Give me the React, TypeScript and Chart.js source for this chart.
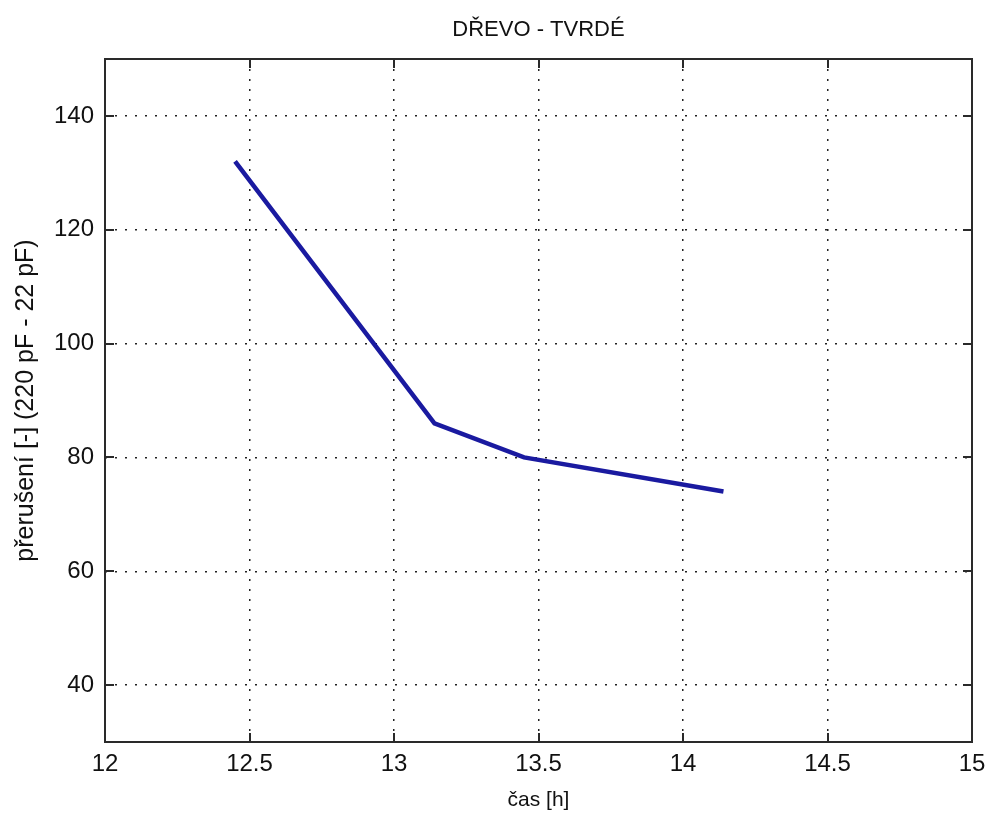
import React, { useEffect, useRef } from "react";
import { Chart, registerables } from "chart.js";

Chart.register(...registerables);

const timeHours = [12.45, 13.14, 13.45, 14.14];
const interruptions = [132, 86, 80, 74];
const xTicks = [12, 12.5, 13, 13.5, 14, 14.5, 15];
const yTicks = [40, 60, 80, 100, 120, 140];
const titleText = "DŘEVO - TVRDÉ";
const xTitle = "čas [h]";
const yTitle = "přerušení [-] (220 pF - 22 pF)";

const FONT = "'Liberation Sans', Arial, sans-serif";

const boxPlugin = {
  id: "matlabBox",
  afterDraw(chart: any) {
    const { ctx, chartArea, scales } = chart;
    const { left, right, top, bottom } = chartArea;
    ctx.save();
    ctx.strokeStyle = "#2a2a2a";
    ctx.lineWidth = 2;
    ctx.setLineDash([]);
    ctx.beginPath();
    const L = 9;
    xTicks.forEach((v) => {
      const px = Math.round(scales.x.getPixelForValue(v));
      ctx.moveTo(px, bottom);
      ctx.lineTo(px, bottom - L);
      ctx.moveTo(px, top);
      ctx.lineTo(px, top + L);
    });
    yTicks.forEach((v) => {
      const py = Math.round(scales.y.getPixelForValue(v));
      ctx.moveTo(left, py);
      ctx.lineTo(left + L, py);
      ctx.moveTo(right, py);
      ctx.lineTo(right - L, py);
    });
    ctx.stroke();
    ctx.strokeRect(Math.round(left), Math.round(top), Math.round(right - left), Math.round(bottom - top));
    ctx.restore();
  },
};

export default function App() {
  const ref = useRef<HTMLCanvasElement | null>(null);
  useEffect(() => {
    if (!ref.current) return;
    const chart = new Chart(ref.current, {
      type: "line",
      data: {
        datasets: [
          {
            data: timeHours.map((x, i) => ({ x, y: interruptions[i] })),
            borderColor: "#1a1aa0",
            borderWidth: 4.5,
            pointRadius: 0,
            tension: 0,
            fill: false,
          },
        ],
      },
      options: {
        animation: false,
        responsive: false,
        maintainAspectRatio: false,
        layout: { padding: { left: 0, right: 17, top: 0, bottom: 0 } },
        plugins: {
          legend: { display: false },
          tooltip: { enabled: false },
          title: {
            display: true,
            text: titleText,
            fullSize: false,
            color: "#111",
            font: { family: FONT, size: 22, weight: "normal" },
            padding: { top: 16.5, bottom: 16.1 },
          },
        },
        scales: {
          x: {
            type: "linear",
            min: 12,
            max: 15,
            afterBuildTicks: (scale: any) => {
              scale.ticks = xTicks.map((v) => ({ value: v }));
            },
            afterFit: (scale: any) => {
              scale.height = 74;
              scale.paddingLeft = 0;
              scale.paddingRight = 0;
            },
            grid: {
              color: "#222",
              lineWidth: 1.5,
              drawTicks: false,
            },
            border: { display: false, dash: [2, 8] },
            ticks: {
              color: "#111",
              padding: 8,
              maxRotation: 0,
              autoSkip: false,
              font: { family: FONT, size: 24 },
              callback: (v: any) => String(v),
            },
            title: {
              display: true,
              text: xTitle,
              color: "#111",
              font: { family: FONT, size: 21 },
              padding: { top: 0, bottom: 3 },
            },
          },
          y: {
            type: "linear",
            min: 30,
            max: 150,
            afterBuildTicks: (scale: any) => {
              scale.ticks = yTicks.map((v) => ({ value: v }));
            },
            afterFit: (scale: any) => {
              scale.width = 105;
            },
            grid: {
              color: "#222",
              lineWidth: 1.5,
              drawTicks: false,
            },
            border: { display: false, dash: [2, 8] },
            ticks: {
              color: "#111",
              padding: 11,
              autoSkip: false,
              font: { family: FONT, size: 24 },
              callback: (v: any) => String(v),
            },
            title: {
              display: true,
              text: yTitle,
              color: "#111",
              font: { family: FONT, size: 25 },
              padding: { top: 11, bottom: 0 },
            },
          },
        },
      },
      plugins: [boxPlugin],
    } as any);
    return () => chart.destroy();
  }, []);
  return (
    <div style={{ position: "fixed", left: 0, top: 0, width: 989, height: 816, background: "#fff" }}>
      <canvas ref={ref} width={989} height={816} style={{ width: 989, height: 816 }} />
    </div>
  );
}
